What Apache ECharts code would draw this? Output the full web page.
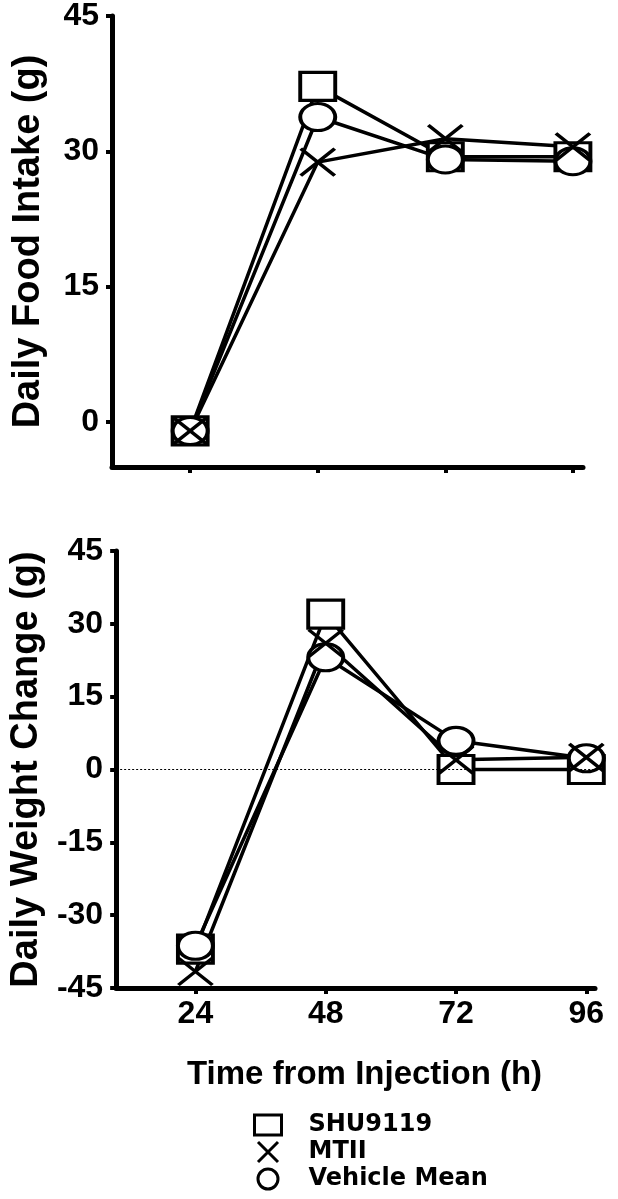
<!DOCTYPE html>
<html>
<head>
<meta charset="utf-8">
<script src="https://cdn.jsdelivr.net/npm/echarts@6/dist/echarts.min.js"></script>
<style>
html,body{margin:0;padding:0;background:#fff;}
#c{width:618px;height:1199px;}
</style>
</head>
<body>
<div id="c"></div>
<script>
// ---- data ----
const hours = [24, 48, 72, 96];
const xTicks = [24, 48, 72, 96];
const foodTicks = [0, 15, 30, 45];
const seriesNames = ['SHU9119', 'MTII', 'Vehicle Mean'];

const foodSHU = [-1, 37.2, 29.4, 29.4];
const foodMTII = [-1, 28.8, 31.4, 30.5];
const foodVeh = [-1, 33.8, 29.1, 28.9];

const wtSHU = [-37, 32, 0, 0];
const wtMTII = [-41.6, 26, 2, 2.5];
const wtVeh = [-36.3, 23.1, 5.9, 2.3];

const xName = 'Time from Injection (h)';
const yNameTop = 'Daily Food Intake (g)';
const yNameBot = 'Daily Weight Change (g)';

// ---- styling ----
const FONT = '"Liberation Sans", Arial, sans-serif';
const crossPath = 'path://M0,0L10,10M10,0L0,10';
const symbols = {
  'SHU9119': {symbol: 'rect', size: [35, 28]},
  'MTII': {symbol: crossPath, size: [34, 27]},
  'Vehicle Mean': {symbol: 'circle', size: [35, 27]}
};

function pairs(vals) { return hours.map((h, i) => [h, vals[i]]); }

function mkSeries(name, vals, idx, extra) {
  const s = Object.assign({
    name: name,
    type: 'line',
    xAxisIndex: idx,
    yAxisIndex: idx,
    data: pairs(vals),
    symbol: symbols[name].symbol,
    symbolSize: symbols[name].size,
    showAllSymbol: true,
    lineStyle: {color: '#000', width: 3.5},
    itemStyle: {color: '#fff', borderColor: '#000', borderWidth: 3.5},
    emphasis: {disabled: true},
    silent: true
  }, extra || {});
  return s;
}

const axisLineStyle = {show: true, onZero: false, lineStyle: {color: '#000', width: 5}};
const tickStyle = {show: true, length: 6, lineStyle: {color: '#000', width: 4}};
const tickLabel = {color: '#000', fontFamily: FONT, fontWeight: 'bold', fontSize: 32};

const chart = echarts.init(document.getElementById('c'), null, {renderer: 'canvas'});
chart.setOption({
  animation: false,
  backgroundColor: '#fff',
  grid: [
    {left: 112, right: 35, top: 14, height: 453},
    {left: 112, right: 23, top: 551, height: 437}
  ],
  xAxis: [
    {
      gridIndex: 0, type: 'value', min: 9.3, max: 97.9,
      axisLine: axisLineStyle,
      axisTick: Object.assign({}, tickStyle, {customValues: xTicks}),
      axisLabel: {show: false},
      splitLine: {show: false}
    },
    {
      gridIndex: 1, type: 'value', min: 9.4, max: 97.6,
      axisLine: axisLineStyle,
      axisTick: Object.assign({}, tickStyle, {customValues: xTicks}),
      axisLabel: Object.assign({}, tickLabel, {margin: 10, customValues: xTicks}),
      splitLine: {show: false},
      name: xName, nameLocation: 'middle', nameGap: 70,
      nameTextStyle: {color: '#000', fontFamily: FONT, fontWeight: 'bold', fontSize: 33, padding: [0, 0, 0, 18]}
    }
  ],
  yAxis: [
    {
      gridIndex: 0, type: 'value', min: -5, max: 45,
      axisLine: axisLineStyle,
      axisTick: Object.assign({}, tickStyle, {customValues: foodTicks}),
      axisLabel: Object.assign({}, tickLabel, {margin: 13, customValues: foodTicks}),
      splitLine: {show: false},
      name: yNameTop, nameLocation: 'middle', nameGap: 64, nameRotate: 90,
      nameTextStyle: {color: '#000', fontFamily: FONT, fontWeight: 'bold', fontSize: 38}
    },
    {
      gridIndex: 1, type: 'value', min: -45, max: 45, interval: 15,
      axisLine: axisLineStyle,
      axisTick: tickStyle,
      axisLabel: Object.assign({}, tickLabel, {margin: 13}),
      splitLine: {show: false},
      name: yNameBot, nameLocation: 'middle', nameGap: 64, nameRotate: 90,
      nameTextStyle: {color: '#000', fontFamily: FONT, fontWeight: 'bold', fontSize: 38}
    }
  ],
  legend: {
    orient: 'vertical',
    left: 253, top: 1113,
    padding: 0,
    itemWidth: 27, itemHeight: 20, itemGap: 3,
    selectedMode: false,
    itemStyle: {color: '#fff', borderColor: '#000', borderWidth: 3},
    textStyle: {color: '#000', fontFamily: '"DejaVu Sans", sans-serif', fontWeight: 'bold', fontSize: 24, lineHeight: 20, padding: [0, 0, 0, 22]},
    data: [
      {name: 'SHU9119', icon: 'rect'},
      {name: 'MTII', icon: crossPath},
      {name: 'Vehicle Mean', icon: 'circle'}
    ]
  },
  series: [
    mkSeries('SHU9119', foodSHU, 0),
    mkSeries('Vehicle Mean', foodVeh, 0),
    mkSeries('MTII', foodMTII, 0),
    mkSeries('SHU9119', wtSHU, 1, {
      markLine: {
        silent: true, symbol: 'none', label: {show: false},
        lineStyle: {color: '#000', width: 1, type: [2, 2]},
        data: [{yAxis: 0}]
      }
    }),
    mkSeries('Vehicle Mean', wtVeh, 1),
    mkSeries('MTII', wtMTII, 1)
  ]
});
</script>
</body>
</html>
